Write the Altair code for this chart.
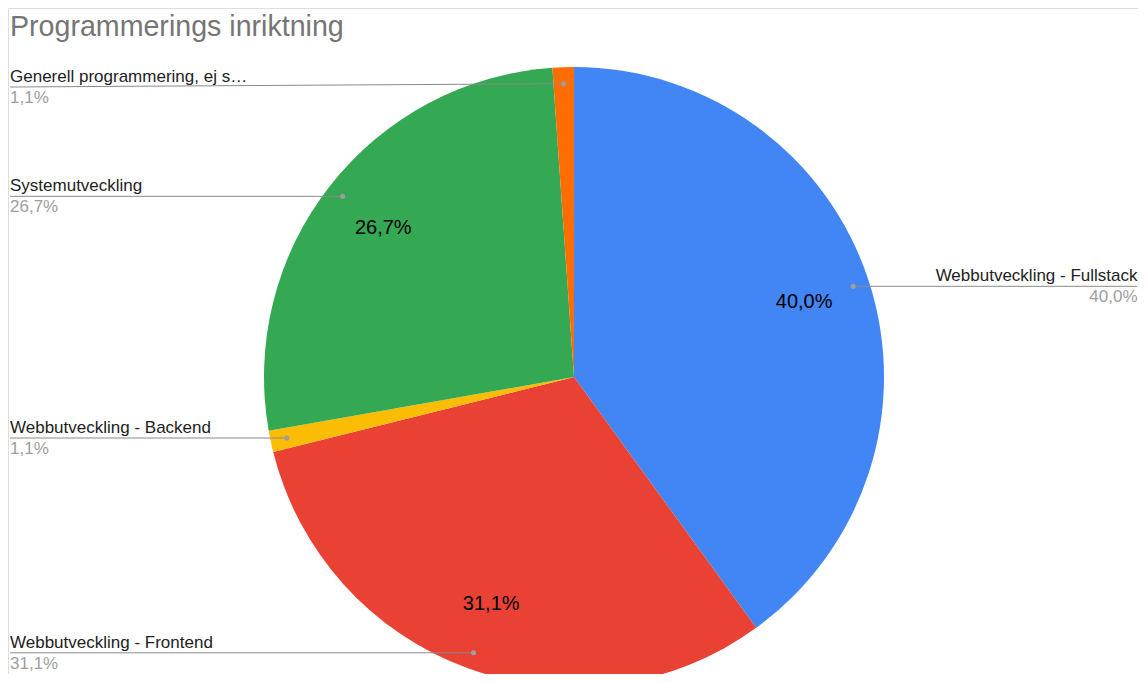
import altair as alt
import pandas as pd

TITLE = "Programmerings inriktning"
categories = [
    "Webbutveckling - Fullstack",
    "Webbutveckling - Frontend",
    "Webbutveckling - Backend",
    "Systemutveckling",
    "Generell programmering, ej s…",
]
counts = [36, 28, 1, 24, 1]
colors = ["#4285F4", "#E94235", "#FBBC04", "#34A853", "#FF6D01"]

df = pd.DataFrame({"category": categories, "n": counts, "idx": list(range(len(categories)))})

W, H = 1130, 666
CX, CY, R = 566, 369, 310
R_DOT = 293.5
R_IN = 242
LEFT_X, RIGHT_X = 2, 1129.5
MIN_LINE_Y = 79
FONT = "Liberation Sans"

base = (
    alt.Chart(df)
    .transform_joinaggregate(total="sum(n)")
    .transform_window(cum="sum(n)", sort=[alt.SortField("idx")], frame=[None, 0])
    .transform_calculate(
        mid="(datum.cum - datum.n/2)/datum.total*2*PI",
        share="datum.n/datum.total",
        pct="replace(format(datum.n/datum.total*100, '.1f'), '.', ',') + '%'",
    )
    .transform_calculate(
        dotx=f"{CX} + {R_DOT}*sin(datum.mid)",
        doty=f"{CY} - {R_DOT}*cos(datum.mid)",
        inx=f"{CX} + {R_IN}*sin(datum.mid)",
        iny=f"{CY} - {R_IN}*cos(datum.mid)",
        side="sin(datum.mid) > 0 ? 'right' : 'left'",
    )
    .transform_calculate(
        linex=f"datum.side == 'right' ? {RIGHT_X} : {LEFT_X}",
        liney=f"max(datum.doty, {MIN_LINE_Y})",
    )
)

pie = (
    alt.Chart(df)
    .mark_arc(outerRadius=R)
    .encode(
        theta=alt.Theta("n:Q", stack=True),
        order=alt.Order("idx:Q"),
        color=alt.Color(
            "category:N",
            scale=alt.Scale(domain=categories, range=colors),
            legend=None,
        ),
        x=alt.value(CX),
        y=alt.value(CY),
    )
)

X = lambda f: alt.X(f, scale=None, axis=None)
Y = lambda f: alt.Y(f, scale=None, axis=None)

leader = base.mark_rule(color="#8a8a8a", strokeWidth=1).encode(
    x=X("dotx:Q"), y=Y("doty:Q"), x2="linex:Q", y2="liney:Q"
)
dots = base.mark_circle(size=26, color="#9e9e9e", opacity=1).encode(
    x=X("dotx:Q"), y=Y("doty:Q")
)

name_left = base.transform_filter("datum.side == 'left'").mark_text(
    align="left", baseline="alphabetic", dy=-5, fontSize=17, font=FONT, color="#222222"
).encode(x=X("linex:Q"), y=Y("liney:Q"), text="category:N")
pct_left = base.transform_filter("datum.side == 'left'").mark_text(
    align="left", baseline="alphabetic", dy=16, fontSize=17, font=FONT, color="#9e9e9e"
).encode(x=X("linex:Q"), y=Y("liney:Q"), text="pct:N")
name_right = base.transform_filter("datum.side == 'right'").mark_text(
    align="right", baseline="alphabetic", dy=-5, fontSize=17, font=FONT, color="#222222"
).encode(x=X("linex:Q"), y=Y("liney:Q"), text="category:N")
pct_right = base.transform_filter("datum.side == 'right'").mark_text(
    align="right", baseline="alphabetic", dy=16, fontSize=17, font=FONT, color="#9e9e9e"
).encode(x=X("linex:Q"), y=Y("liney:Q"), text="pct:N")

inner = base.transform_filter("datum.share > 0.05").mark_text(
    align="center", baseline="middle", fontSize=20, font=FONT, color="#000000"
).encode(x=X("inx:Q"), y=Y("iny:Q"), text="pct:N")

title = (
    alt.Chart(pd.DataFrame({"t": [TITLE]}))
    .mark_text(align="left", baseline="alphabetic", fontSize=28.6, font=FONT, color="#757575")
    .encode(x=alt.value(LEFT_X), y=alt.value(28), text="t:N")
)

chart = (
    alt.layer(pie, leader, dots, name_left, pct_left, name_right, pct_right, inner, title)
    .properties(width=W, height=H, autosize=alt.AutoSizeParams(type="none"), padding=0)
    .configure_view(stroke="transparent", strokeWidth=0, strokeOpacity=0)
    .configure(background="white")
)

chart.save("out.html", embed_options={"renderer": "svg", "actions": False})
